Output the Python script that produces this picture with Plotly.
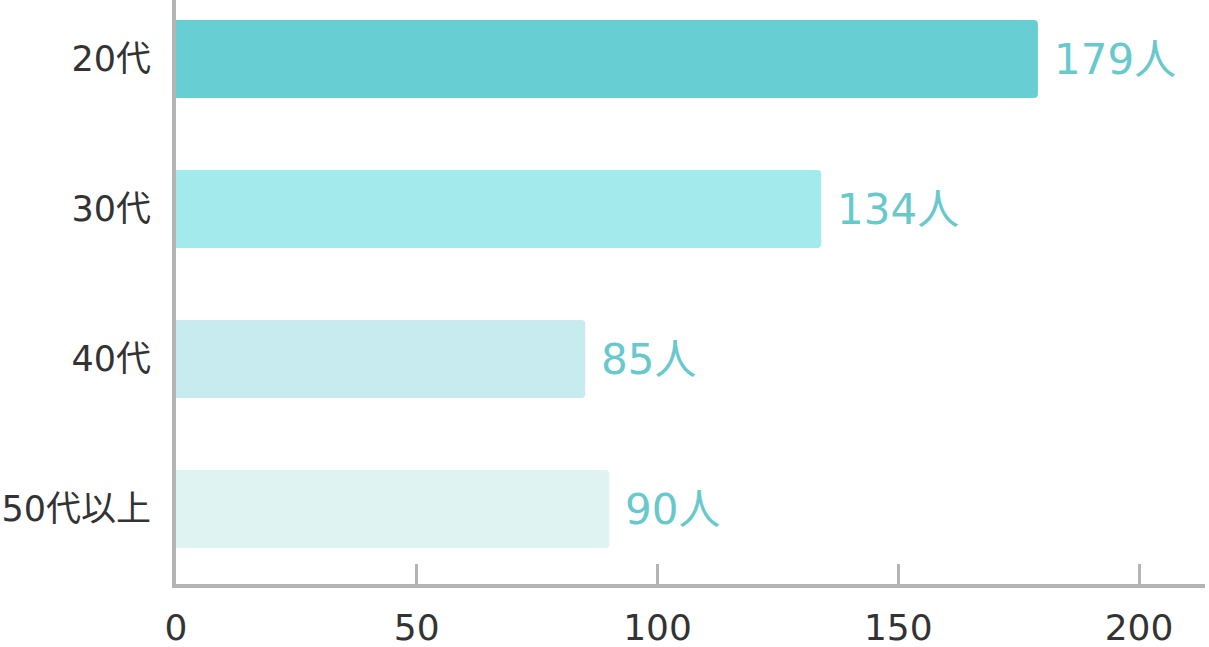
import plotly.graph_objects as go

categories = ["20代", "30代", "40代", "50代以上"]
values = [179, 134, 85, 90]
bar_colors = ["#67CFD3", "#A2EAEB", "#C8EBEF", "#DFF4F2"]
value_labels = [f"{v}人" for v in values]
x_tickvals = [0, 50, 100, 150, 200]

FONT = "DejaVu Sans, Noto Sans CJK JP, sans-serif"
AXIS_COLOR = "#b4b4b4"

fig = go.Figure()
fig.add_trace(go.Bar(
    x=values, y=categories, orientation="h",
    marker=dict(color=bar_colors, line=dict(width=0)),
    hoverinfo="skip",
))

for cat, v, lab in zip(categories, values, value_labels):
    fig.add_annotation(
        x=v, y=cat, text=lab, showarrow=False,
        xanchor="left", yanchor="middle", xshift=14,
        font=dict(family=FONT, size=42, color="#68C9CD"),
    )

fig.update_layout(
    width=1209, height=647,
    margin=dict(l=176, r=4, t=0, b=63, autoexpand=False),
    paper_bgcolor="white", plot_bgcolor="white",
    bargap=0.48, barcornerradius=4,
    showlegend=False,
    font=dict(family=FONT, color="#333333"),
)

fig.update_xaxes(
    range=[0, 213.7], tickvals=x_tickvals,
    showgrid=False, zeroline=False, automargin=False,
    showline=True, linewidth=4, linecolor=AXIS_COLOR,
    ticks="inside", ticklen=20, tickwidth=3, tickcolor=AXIS_COLOR,
    tickfont=dict(family=FONT, size=36, color="#333333"),
    ticklabelstandoff=9,
)
fig.update_yaxes(
    type="category", range=[3.5, -0.3933],
    showgrid=False, zeroline=False, automargin=False,
    showline=True, linewidth=4, linecolor=AXIS_COLOR,
    ticks="", tickfont=dict(family=FONT, size=35, color="#333333"),
    ticklabelstandoff=14,
)

fig.write_html(
    "out.html",
    config={"displayModeBar": False},
    post_script="document.body.style.margin='0';document.body.style.overflow='hidden';",
)
